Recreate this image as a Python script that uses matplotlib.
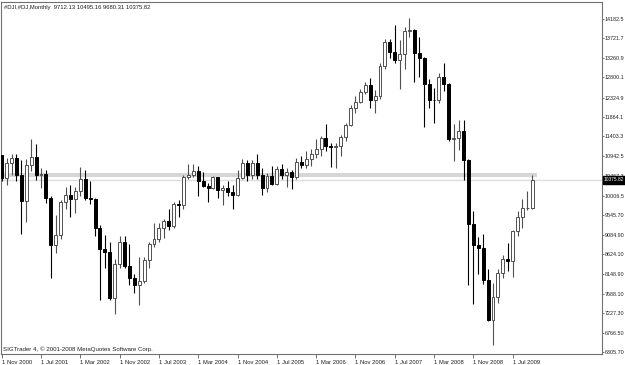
import matplotlib
matplotlib.use('Agg')
import matplotlib.pyplot as plt
import matplotlib.transforms as mtransforms
from matplotlib import font_manager as fm
import numpy as np


def has_font(name):
    try:
        fm.findfont(fm.FontProperties(family=name), fallback_to_default=False)
        return True
    except Exception:
        return False


# small narrow font like the MT4 one, if we have it
if has_font('Liberation Sans Narrow'):
    FAM, FS, FS_Y = 'Liberation Sans Narrow', 5.0, 4.8
else:
    FAM, FS, FS_Y = 'Liberation Sans', 4.2, 3.85
plt.rcParams['font.family'] = [FAM, 'DejaVu Sans']

# #DJI monthly bars, Nov 2000 .. Nov 2009 (last bar still open)
opens = [10971, 10415,
         10788, 10887, 10495, 9879, 10735, 10912, 10502, 10523, 9950, 8848, 9075, 9852,
         10021, 9920, 10106, 10404, 9946, 9925, 9243, 8737, 8664, 7592, 8397, 8896,
         8342, 8054, 7891, 7992, 8480, 8850, 8985, 9234, 9416, 9275, 9801, 9782,
         10454, 10488, 10584, 10358, 10226, 10188, 10435, 10140, 10174, 10080, 10027, 10428,
         10783, 10490, 10766, 10504, 10193, 10467, 10275, 10641, 10482, 10569, 10440, 10806,
         10718, 10865, 10993, 11109, 11367, 11168, 11150, 11186, 11381, 11679, 12081, 12221,
         12463, 12622, 12269, 12354, 13063, 13628, 13409, 13212, 13358, 13896, 13930, 13372,
         13265, 12650, 12266, 12263, 12820, 12638, 11350, 11378, 11544, 10851, 9325, 8829,
         8776, 8001, 7063, 7609, 8168, 8500, 8447, 9172, 9496, 9712, 9712.13]
highs = [10977, 10898,
         10983, 10983, 10858, 10863, 11350, 11220, 10650, 10610, 10000, 9550, 9900, 10200,
         10250, 10200, 10673, 10600, 10350, 9950, 9300, 9077, 8900, 8500, 9043, 9050,
         8870, 8150, 8550, 8550, 8900, 9350, 9350, 9450, 9700, 9850, 9900, 10500,
         10753, 10753, 10700, 10570, 10300, 10480, 10440, 10250, 10350, 10250, 10600, 10870,
         10850, 10850, 10984, 10650, 10550, 10700, 10700, 10750, 10650, 10600, 10900, 10950,
         11050, 11100, 11335, 11425, 11710, 11260, 11250, 11450, 11720, 12160, 12360, 12530,
         12700, 12790, 12500, 13150, 13700, 13700, 14050, 13690, 14000, 14198, 13950, 13760,
         13280, 12770, 12560, 12900, 13136, 12670, 11700, 11800, 11790, 10880, 9650, 9030,
         9088, 8280, 7930, 8280, 8590, 8880, 9200, 9630, 9920, 10120, 10495.16]
lows = [10360, 10264,
        10500, 10362, 9106, 9389, 10577, 10373, 10175, 9830, 8062, 8659, 8984, 9700,
        9500, 9586, 10000, 9900, 9800, 9050, 7532, 8300, 7530, 7197, 8300, 8300,
        7900, 7700, 7416, 7930, 8300, 8800, 8900, 9000, 9200, 9250, 9500, 9700,
        10400, 10450, 10000, 10200, 9850, 10150, 9950, 9780, 9990, 9700, 10000, 10400,
        10350, 10400, 10400, 10010, 10100, 10250, 10250, 10400, 10200, 10160, 10400, 10650,
        10650, 10700, 10900, 10950, 11050, 10690, 10660, 10950, 11300, 11650, 11950, 12200,
        12400, 12080, 11950, 12300, 13000, 13250, 13150, 12518, 13000, 13750, 12700, 12810,
        11635, 12070, 11731, 12200, 12480, 11290, 10827, 11090, 10365, 7882, 7450, 8150,
        7909, 7050, 6470, 7470, 8060, 8210, 8090, 9050, 9250, 9670, 9680.31]
closes = [10415, 10788,
          10887, 10495, 9879, 10735, 10912, 10502, 10523, 9950, 8848, 9075, 9852, 10021,
          9920, 10106, 10404, 9946, 9925, 9243, 8737, 8664, 7592, 8397, 8896, 8342,
          8054, 7891, 7992, 8480, 8850, 8985, 9234, 9416, 9275, 9801, 9782, 10454,
          10488, 10584, 10358, 10226, 10188, 10435, 10140, 10174, 10080, 10027, 10428, 10783,
          10490, 10766, 10504, 10193, 10467, 10275, 10641, 10482, 10569, 10440, 10806, 10718,
          10865, 10993, 11109, 11367, 11168, 11150, 11186, 11381, 11679, 12081, 12221, 12463,
          12622, 12269, 12354, 13063, 13628, 13409, 13212, 13358, 13896, 13930, 13372, 13265,
          12650, 12266, 12263, 12820, 12638, 11350, 11378, 11544, 10851, 9325, 8829, 8776,
          8001, 7063, 7609, 8168, 8500, 8447, 9172, 9496, 9712, 9713, 10375.82]

date_labels = ['1 Nov 2000', '1 Jul 2001', '1 Mar 2002', '1 Nov 2002', '1 Jul 2003',
               '1 Mar 2004', '1 Nov 2004', '1 Jul 2005', '1 Mar 2006', '1 Nov 2006',
               '1 Jul 2007', '1 Mar 2008', '1 Nov 2008', '1 Jul 2009']
price_ticks = [14182.5, 13721.7, 13260.9, 12800.1, 12324.9, 11864.1, 11403.3, 10942.5,
               10467.3, 10006.5, 9545.70, 9084.90, 8624.10, 8148.90, 7688.10, 7227.30,
               6766.50, 6305.70]
price_labels = ['14182.5', '13721.7', '13260.9', '12800.1', '12324.9', '11864.1',
                '11403.3', '10942.5', '10467.3', '10006.5', '9545.70', '9084.90',
                '8624.10', '8148.90', '7688.10', '7227.30', '6766.50', '6305.70']
band_low, band_high = 10453, 10548
bid = closes[-1]

o = np.array(opens, float)
h = np.array(highs, float)
l = np.array(lows, float)
c = np.array(closes, float)
x = np.arange(len(c))
up = c >= o

fig = plt.figure(figsize=(6.25, 3.65), dpi=100)
ax = fig.add_axes([1.3 / 625, 11 / 365, 600.4 / 625, 352 / 365])

# grey horizontal band and bid line
ax.fill_between([-1, len(c) + 0.0], band_low, band_high, color='#d6d6d6', lw=0, zorder=1)
ax.axhline(bid, color='#dddddd', lw=1.0, zorder=1)

wick_col = np.where(up, '#505050', '#000000')
ax.vlines(x, l, h, colors=wick_col, lw=0.8, zorder=2)
body_h = np.maximum(np.abs(c - o), 1.0)
ax.bar(x, body_h, bottom=np.minimum(o, c), width=0.6,
       color=np.where(up, 'white', 'black'), edgecolor=wick_col, lw=0.7, zorder=3)

ax.set_xlim(-0.08, 122.13)
ax.set_ylim(6258.4, 14584.6)

ax.set_xticks(np.arange(len(date_labels)) * 8)
ax.set_xticklabels(date_labels, ha='left')
ax.yaxis.tick_right()
ax.set_yticks(price_ticks)
ax.set_yticklabels(price_labels)
ax.tick_params(axis='x', direction='out', length=3, width=0.7, color='#707070',
               pad=1, labelsize=FS, labelcolor='#202020')
ax.tick_params(axis='y', direction='out', length=1.6, width=0.7, color='#707070',
               pad=0.6, labelsize=FS_Y, labelcolor='#202020')
for s in ax.spines.values():
    s.set_color('#707070')
    s.set_linewidth(0.8)

# current price label on the scale
tr = mtransforms.blended_transform_factory(ax.transAxes, ax.transData)
ax.text(1.0 + 2.0 / 600.4, bid, '10375.82', transform=tr, color='white', fontsize=FS_Y - 0.3,
        ha='left', va='center', clip_on=False, zorder=10,
        bbox=dict(facecolor='black', edgecolor='black', pad=0.8))

fig.text(4 / 625, 1 - 7 / 365, '#DJI,#DJ,Monthly  9712.13 10495.16 9680.31 10375.82',
         fontsize=FS, va='center', ha='left', color='#202020')
fig.text(3 / 625, 1 - 349 / 365, 'SIGTrader 4, \u00a9 2001-2008 MetaQuotes Software Corp.',
         fontsize=FS + 0.2, va='center', ha='left', color='#202020')

fig.savefig('out.png', dpi=100)
